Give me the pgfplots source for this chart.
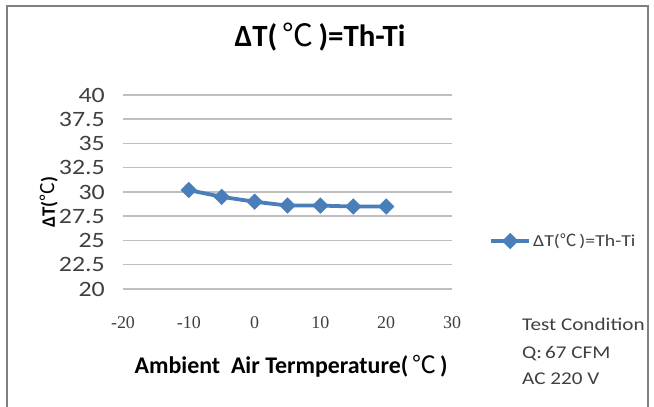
\documentclass[border=0pt]{standalone}
\usepackage{pgfplots}
\pgfplotsset{compat=1.18}
\usepackage{fontspec}
\setmainfont{Carlito}
\newfontfamily\wide{Carlito}[FakeStretch=1.18]
\newfontfamily\cjk{Noto Sans CJK SC}
\newfontfamily\serifnum{Liberation Serif}
\newcommand{\degC}{{\mdseries\cjk ℃}}
\definecolor{lineblue}{HTML}{4A7EBB}
\definecolor{gridgray}{HTML}{BFBFBF}
\definecolor{ticktext}{HTML}{404040}
\definecolor{framegray}{HTML}{808080}

\begin{document}
\begin{tikzpicture}
\path[use as bounding box] (0,0) rectangle (654bp,407bp);
\fill[white] (0,0) rectangle (654bp,407bp);
\draw[framegray, line width=1.5bp] (7bp,-5bp) -- (7bp,401bp) -- (648bp,401bp) -- (648bp,-5bp);

\begin{axis}[
    at={(123bp,118bp)}, anchor=south west,
    scale only axis,
    width=329bp, height=194bp,
    xmin=-20, xmax=30, ymin=20, ymax=40,
    xtick={-20,-10,0,10,20,30},
    xticklabels={-20,-10,0,10,20,30},
    ytick={20,22.5,25,27.5,30,32.5,35,37.5,40},
    yticklabels={20,22.5,25,27.5,30,32.5,35,37.5,40},
    ymajorgrids,
    major grid style={gridgray, line width=1.5bp},
    axis line style={draw=none},
    major tick length=0pt,
    xticklabel style={font=\serifnum\fontsize{18}{18}\selectfont, text=ticktext, anchor=center, yshift=-33.5bp},
    yticklabel style={font=\wide\fontsize{22}{22}\selectfont, text=ticktext, anchor=east, xshift=-18bp, inner sep=0pt},
    title={\textbf{ΔT(\,\degC\,)=Th-Ti}},
    title style={at={(axis description cs:0.599,1.268)}, anchor=center, font=\fontsize{31}{31}\selectfont},
    xlabel={\textbf{Ambient\ \ Air Termperature(\,\degC\,)}},
    every axis x label/.style={at={(axis description cs:0.511,-0.397)}, anchor=center, font=\fontsize{24}{24}\selectfont},
    ylabel={\textbf{ΔT(\degC)}},
    every axis y label/.style={at={(axis description cs:-0.225,0.448)}, rotate=90, anchor=center, font=\fontsize{19}{19}\selectfont},
    legend style={at={(axis description cs:1.113,0.247)}, anchor=west, draw=none, fill=none,
        inner sep=0pt, font=\wide\fontsize{16.8}{16.8}\selectfont, text=ticktext},
    legend image code/.code={\draw[mark repeat=2,mark phase=2,#1] plot coordinates {(0bp,0bp) (19bp,0bp) (38bp,0bp)};},
]
\addplot[lineblue, line width=3.8bp, mark=square*, mark size=5.5bp, mark options={fill=lineblue, line width=0.5bp, rotate=45}]
coordinates {(-10,30.2) (-5,29.5) (0,29.0) (5,28.6) (10,28.6) (15,28.5) (20,28.5)};
\addlegendentry{ΔT(\degC\,)=Th-Ti}
\end{axis}

\begin{scope}[every node/.style={anchor=base west, inner sep=0pt, text=ticktext, font=\wide\fontsize{18}{18}\selectfont}]
\node at (522bp,76bp) {Test Condition};
\node at (522bp,48bp) {Q:\,67 CFM};
\node at (522bp,23bp) {AC 220 V};
\end{scope}
\end{tikzpicture}
\end{document}
